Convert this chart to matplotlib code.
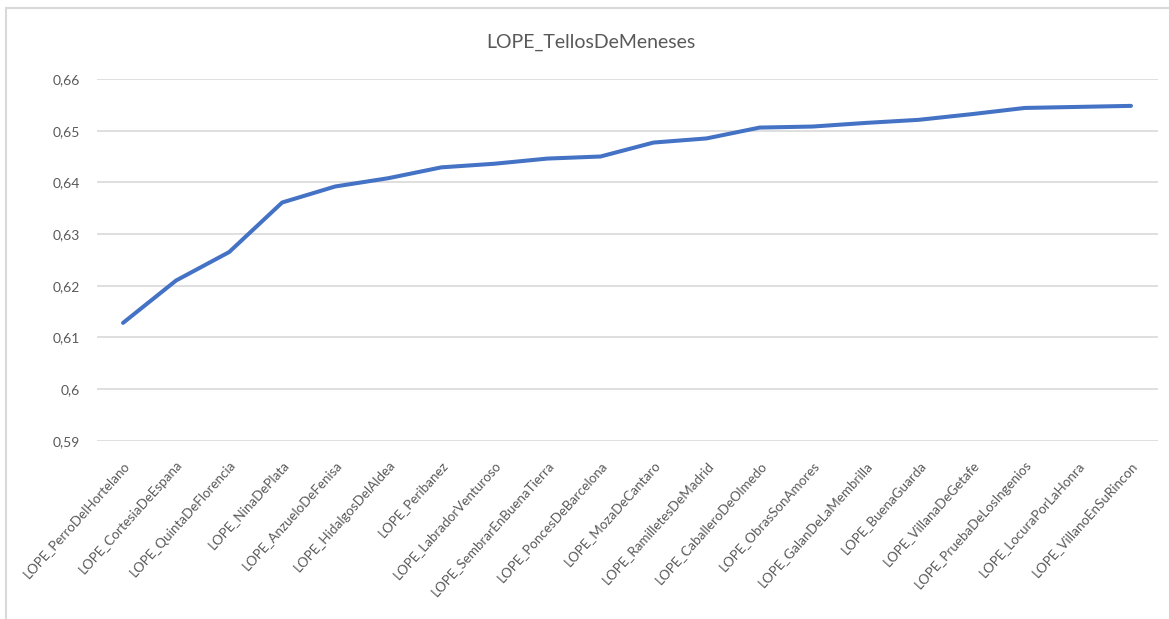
import matplotlib
matplotlib.use("Agg")
import matplotlib.pyplot as plt
from matplotlib.patches import Rectangle
from matplotlib.ticker import FuncFormatter

categories = [
    "LOPE_PerroDelHortelano", "LOPE_CortesiaDeEspana", "LOPE_QuintaDeFlorencia",
    "LOPE_NinaDePlata", "LOPE_AnzueloDeFenisa", "LOPE_HidalgosDelAldea",
    "LOPE_Peribanez", "LOPE_LabradorVenturoso", "LOPE_SembrarEnBuenaTierra",
    "LOPE_PoncesDeBarcelona", "LOPE_MozaDeCantaro", "LOPE_RamilletesDeMadrid",
    "LOPE_CaballeroDeOlmedo", "LOPE_ObrasSonAmores", "LOPE_GalanDeLaMembrilla",
    "LOPE_BuenaGuarda", "LOPE_VillanaDeGetafe", "LOPE_PruebaDeLosIngenios",
    "LOPE_LocuraPorLaHonra", "LOPE_VillanoEnSuRincon",
]
values = [
    0.6128, 0.6210, 0.6265, 0.6361, 0.6392, 0.6408, 0.6429, 0.6436, 0.6446, 0.6450,
    0.6477, 0.6485, 0.6506, 0.6508, 0.6515, 0.6521, 0.6532, 0.6544, 0.6546, 0.6548,
]
yticks = [0.59, 0.60, 0.61, 0.62, 0.63, 0.64, 0.65, 0.66]
title = "LOPE_TellosDeMeneses"

plt.rcParams['font.family'] = ['Lato', 'DejaVu Sans']

W, H = 1169, 619
fig = plt.figure(figsize=(W / 100, H / 100), dpi=100)
fig.patch.set_facecolor("white")

# outer chart border
fig.patches.append(Rectangle((6 / W, -0.1), 1.2, 1 - 8 / H + 0.1, transform=fig.transFigure,
                             fill=False, edgecolor="#D9D9D9", linewidth=1.5, zorder=0))

left, right = 96.5, 1157.5
top, bottom = 79, 440.7
ax = fig.add_axes([left / W, 1 - bottom / H, (right - left) / W, (bottom - top) / H])

x = list(range(len(categories)))
ax.plot(x, values, color="#4472C4", linewidth=2.9, solid_capstyle="round",
        solid_joinstyle="round", zorder=3)

ax.set_xlim(-0.5, len(categories) - 0.5)
ax.set_ylim(0.59, 0.66)
ax.set_yticks(yticks)
ax.yaxis.set_major_formatter(FuncFormatter(lambda v, p: f"{v:.2f}".rstrip("0").replace(".", ",")))
ax.grid(axis="y", color="#D9D9D9", linewidth=1.2)
ax.set_axisbelow(True)
for s in ax.spines.values():
    s.set_visible(False)

ax.tick_params(axis="y", length=0, pad=12, labelsize=10, labelcolor="#595959")
ax.tick_params(axis="x", length=0, pad=13, labelsize=9.6, labelcolor="#595959")
ax.set_xticks(x)
ax.set_xticklabels(categories, rotation=48, ha="right", va="top", rotation_mode="anchor")

fig.text(591 / W, 1 - 42 / H, title, ha="center", va="center", fontsize=14, color="#595959")

fig.savefig("out.png", dpi=100, facecolor="white")
